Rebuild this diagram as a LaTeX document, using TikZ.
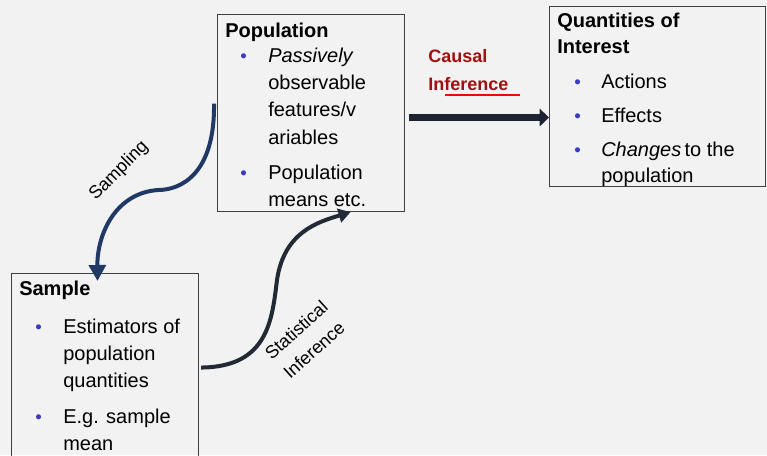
\documentclass[tikz,border=0pt]{standalone}
\usepackage{fontspec}
\setmainfont{Liberation Sans}
\usetikzlibrary{arrows.meta,positioning,calc}
\definecolor{bgcol}{HTML}{F2F2F2}
\definecolor{boxcol}{HTML}{404040}
\definecolor{bulcol}{HTML}{3A3AC8}
\definecolor{sampcol}{HTML}{203864}
\definecolor{statcol}{HTML}{222A35}
\definecolor{causcol}{HTML}{1C2333}
\definecolor{redtxt}{HTML}{A01010}
\newcommand{\bul}{{\fontsize{14}{14}\selectfont\textcolor{bulcol}{\textbullet}}}

\begin{document}
\begin{tikzpicture}[x=0.75pt,y=-0.75pt,
  box/.style={draw=boxcol,line width=0.8pt,inner sep=0pt,anchor=north west},
  heading/.style={anchor=base west,inner sep=0pt,align=left,font=\bfseries\fontsize{15}{19.5}\selectfont},
  listtxt/.style={anchor=base west,inner sep=0pt,font=\fontsize{15}{20.5}\selectfont},
  lab/.style={inner sep=0pt,align=center,font=\fontsize{13.5}{20}\selectfont}]
  \path[use as bounding box,fill=bgcol] (0,0) rectangle (767,455);
  \clip (0,0) rectangle (767,455);
  % boxes
  \node[box,minimum width=140.25pt,minimum height=147.75pt] (popbox) at (217,14) {};
  \node[box,minimum width=162pt,minimum height=135pt] (qbox) at (549,6) {};
  \node[box,minimum width=140.25pt,minimum height=150pt] (sbox) at (11,273) {};
  % texts
  \node[heading] (pophead) at (225,37) {Population};
  \node[listtxt] (poplist) at (240,62) {\begin{tabular}[t]{@{}p{21pt}@{}l@{}}
    \bul & \textit{Passively}\\
         & observable\\
         & features/v\\
         & ariables\\[6pt]
    \bul & Population\\
         & means etc.
  \end{tabular}};
  \node[heading] (qhead) at (557,53) {Quantities of\\Interest};
  \node[listtxt,font=\fontsize{15}{19}\selectfont] (qlist) at (574,88) {\begin{tabular}[t]{@{}p{20.25pt}@{}l@{}}
    \bul & Actions\\[7pt]
    \bul & Effects\\[6.5pt]
    \bul & \textit{Changes}\,to the\\
         & population
  \end{tabular}};
  \node[heading] (shead) at (19,295) {Sample};
  \node[listtxt] (slist) at (35,333) {\begin{tabular}[t]{@{}p{21pt}@{}l@{}}
    \bul & Estimators of\\
         & population\\
         & quantities\\[6pt]
    \bul & E.g. sample\\
         & mean
  \end{tabular}};
  \node[heading,text=redtxt,font=\bfseries\fontsize{13.5}{21}\selectfont] (causlab) at (428,90) {Causal\\Inference};
  \draw[red,line width=1.2pt] (445,95) -- (520,95);
  \node[lab,rotate=45] (samplab) at (119,171) {Sampling};
  \node[lab,rotate=42] (statlab) at (305,340) {Statistical\\Inference};
  % arrows
  \draw[sampcol,line width=3pt,-{Triangle[length=12pt,width=12.5pt]}]
    ($(popbox.west)+(-3,-9.5)$) .. controls (215,175) and (180,190) .. (158,190)
    .. controls (115,193) and (97,235) .. ($(sbox.north)+(-7.5,8)$);
  \draw[statcol,line width=3pt,-{Triangle[length=9pt,width=10.5pt]}]
    ($(sbox.east)+(2,-6)$) .. controls (268,367) and (272,320) .. (277,280)
    .. controls (284,232) and (318,222) .. ($(popbox.south)+(39.5,0)$);
  \coordinate (cstart) at ($(popbox.east)+(4,4.5)$);
  \draw[causcol,line width=5.25pt,-{Triangle[length=7pt,width=13pt]}] (cstart) -- (qbox.west |- cstart);
\end{tikzpicture}
\end{document}
